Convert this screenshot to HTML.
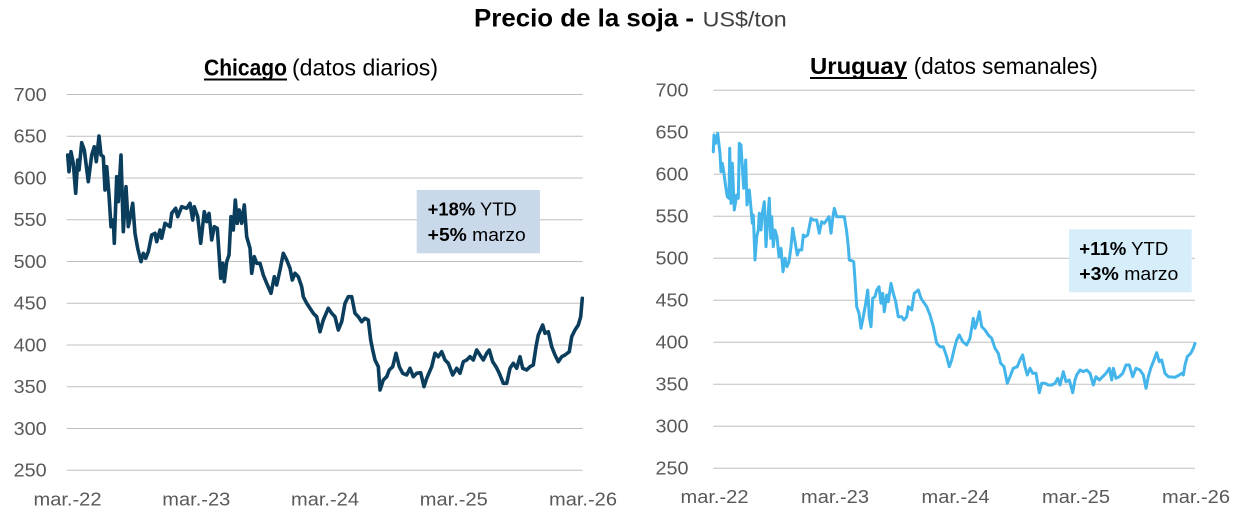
<!DOCTYPE html>
<html>
<head>
<meta charset="utf-8">
<style>
  html, body { margin: 0; padding: 0; background: #ffffff; }
  svg { display: block; }
  text { font-family: "Liberation Sans", Arial, sans-serif; }
</style>
</head>
<body>
<svg width="1243" height="517" viewBox="0 0 1243 517" xmlns="http://www.w3.org/2000/svg">
  <rect x="0" y="0" width="1243" height="517" fill="#ffffff"/>

  <!-- Title -->
  <text x="474" y="26.7" font-size="25" font-weight="bold" fill="#000" textLength="220" lengthAdjust="spacingAndGlyphs">Precio de la soja -</text>
  <text x="702.7" y="26.7" font-size="21" fill="#404040" textLength="84" lengthAdjust="spacingAndGlyphs">US$/ton</text>

  <!-- ===== LEFT CHART (Chicago) ===== -->
  <text x="204" y="75.5" font-size="23" font-weight="bold" fill="#000" textLength="83" lengthAdjust="spacingAndGlyphs">Chicago</text>
  <rect x="204" y="78.5" width="83" height="2" fill="#000"/>
  <text x="292" y="75.5" font-size="23" fill="#000" textLength="146" lengthAdjust="spacingAndGlyphs">(datos diarios)</text>

  <g stroke="#c0c0c0" stroke-width="1">
    <line x1="66.7" y1="94.5" x2="582.7" y2="94.5"/>
    <line x1="66.7" y1="136.25" x2="582.7" y2="136.25"/>
    <line x1="66.7" y1="178" x2="582.7" y2="178"/>
    <line x1="66.7" y1="219.75" x2="582.7" y2="219.75"/>
    <line x1="66.7" y1="261.5" x2="582.7" y2="261.5"/>
    <line x1="66.7" y1="303.25" x2="582.7" y2="303.25"/>
    <line x1="66.7" y1="345" x2="582.7" y2="345"/>
    <line x1="66.7" y1="386.75" x2="582.7" y2="386.75"/>
    <line x1="66.7" y1="428.5" x2="582.7" y2="428.5"/>
    <line x1="66.7" y1="470.25" x2="582.7" y2="470.25"/>
  </g>

  <g font-size="18" fill="#595959" text-anchor="end">
    <text x="46.7" y="100.8" textLength="33" lengthAdjust="spacingAndGlyphs">700</text>
    <text x="46.7" y="142.5" textLength="33" lengthAdjust="spacingAndGlyphs">650</text>
    <text x="46.7" y="184.3" textLength="33" lengthAdjust="spacingAndGlyphs">600</text>
    <text x="46.7" y="226" textLength="33" lengthAdjust="spacingAndGlyphs">550</text>
    <text x="46.7" y="267.8" textLength="33" lengthAdjust="spacingAndGlyphs">500</text>
    <text x="46.7" y="309.5" textLength="33" lengthAdjust="spacingAndGlyphs">450</text>
    <text x="46.7" y="351.3" textLength="33" lengthAdjust="spacingAndGlyphs">400</text>
    <text x="46.7" y="393" textLength="33" lengthAdjust="spacingAndGlyphs">350</text>
    <text x="46.7" y="434.8" textLength="33" lengthAdjust="spacingAndGlyphs">300</text>
    <text x="46.7" y="476.5" textLength="33" lengthAdjust="spacingAndGlyphs">250</text>
  </g>

  <g font-size="18" fill="#595959" text-anchor="middle">
    <text x="67.5" y="505.5" textLength="68" lengthAdjust="spacingAndGlyphs">mar.-22</text>
    <text x="196.3" y="505.5" textLength="68" lengthAdjust="spacingAndGlyphs">mar.-23</text>
    <text x="325" y="505.5" textLength="68" lengthAdjust="spacingAndGlyphs">mar.-24</text>
    <text x="453.8" y="505.5" textLength="68" lengthAdjust="spacingAndGlyphs">mar.-25</text>
    <text x="583" y="505.5" textLength="68" lengthAdjust="spacingAndGlyphs">mar.-26</text>
  </g>

  <polyline fill="none" stroke="#0b3d5c" stroke-width="3.6" stroke-linejoin="round" stroke-linecap="round"
    points="67.7,155 69,171.7 71,151.7 73.3,163.3 75.7,193.3 77.7,160 79,170 81.7,142.7 84.3,150 88.3,181.7 91.7,155 94.3,146.7 96.3,161.7 99,136 101,155 103.3,156.7 105,190 106.7,166.7 109,195 111,226.7 113.3,220 114.3,243.3 116.7,176.7 118.3,201.7 121,155 123.3,231.7 126,186.7 128.3,226.7 130.3,216.7 132.7,203.3 135,233.3 137.7,248.3 141,261.7 143.3,253.3 145.7,258.3 148.3,251.7 151.7,235 155,233.3 156.7,241.7 160,230 161.7,238.3 165,223.3 170,226.7 171.7,213.3 175.7,208.3 177.7,216.7 181.7,206.7 186.7,208.3 190,203.3 192.7,220 194.3,206.7 197.7,216.7 200.7,243.3 204.3,211.7 206.7,221.7 209,213.3 211.7,240 214.3,226.7 217.3,228.3 220.7,278.3 222.7,263.3 224.3,281.7 226.7,261.7 229,255 231,216.7 233.3,230 235.3,200 237.3,223.3 239.3,210 241.7,223.3 244.3,205 246.7,236.7 250,248.3 251.7,273.3 254.3,256.7 256.7,263.3 260,263.3 263.3,275 266.7,283.3 271,293.3 274.3,276.7 276.7,285 280,270 283.3,253.3 286.7,260 290,268.3 292.3,280 295,273.3 298.3,276.7 301.7,286.7 303.3,296.7 306.7,303.3 310,308.3 313.3,313.3 316.7,316.7 320,331.7 323.3,320 328.3,308.3 331.7,313.3 335,316.7 338.3,330 341.7,321.7 345,303.3 348.3,296.7 351.7,296.7 355,313.3 358.3,316.7 361.7,321.7 365,318.3 368.3,320 370.7,340 372.7,350 375,360 378.3,366.7 380,390 383.3,380 386.7,376.7 389.3,370 392.7,366.7 396,353.3 399.3,366.7 402.7,373.3 406.7,375 410,368.3 413.3,376.7 416.7,373.3 420.7,372.7 424,386.7 426.7,378.3 431.7,366.7 435,353.3 438.3,356.7 441.7,351.7 445,360 448.3,363.3 452.7,375 456.7,368.3 460,373.3 463.3,361.7 466.7,360 470,356.7 473.3,360 476.7,350 480,355 483.3,360 486.7,353.3 489.3,350 492.7,361.7 496,366.7 499.3,373.3 503.3,383.3 506.7,383.3 510,368.3 513.3,363.3 516.7,368.3 520,356.7 522.7,368.3 526.7,370 530,366.7 533.3,365 536,346.7 538.3,335 542.7,325 545,333.3 548.3,331.7 551.7,346.7 555,355 558.3,361.7 561.7,356.7 565,355 569.3,351.7 571.7,336.7 575,330 578.3,325 580.7,316.7 582.3,298.3"/>

  <!-- Left annotation box -->
  <rect x="416.7" y="190" width="123.3" height="63.3" fill="#c9d9ea"/>
  <text x="427.7" y="215.7" font-size="18" fill="#000" textLength="89" lengthAdjust="spacingAndGlyphs"><tspan font-weight="bold">+18%</tspan> YTD</text>
  <text x="427.7" y="241" font-size="18" fill="#000" textLength="98" lengthAdjust="spacingAndGlyphs"><tspan font-weight="bold">+5%</tspan> marzo</text>

  <!-- ===== RIGHT CHART (Uruguay) ===== -->
  <text x="810" y="74" font-size="23" font-weight="bold" fill="#000" textLength="97" lengthAdjust="spacingAndGlyphs">Uruguay</text>
  <rect x="810" y="77" width="97" height="2" fill="#000"/>
  <text x="913.8" y="74" font-size="23" fill="#000" textLength="184" lengthAdjust="spacingAndGlyphs">(datos semanales)</text>

  <g stroke="#c0c0c0" stroke-width="1">
    <line x1="713.3" y1="90.3" x2="1195" y2="90.3"/>
    <line x1="713.3" y1="132.3" x2="1195" y2="132.3"/>
    <line x1="713.3" y1="174.3" x2="1195" y2="174.3"/>
    <line x1="713.3" y1="216.3" x2="1195" y2="216.3"/>
    <line x1="713.3" y1="258.3" x2="1195" y2="258.3"/>
    <line x1="713.3" y1="300.3" x2="1195" y2="300.3"/>
    <line x1="713.3" y1="342.3" x2="1195" y2="342.3"/>
    <line x1="713.3" y1="384.3" x2="1195" y2="384.3"/>
    <line x1="713.3" y1="426.3" x2="1195" y2="426.3"/>
    <line x1="713.3" y1="468.3" x2="1195" y2="468.3"/>
  </g>

  <g font-size="18" fill="#595959" text-anchor="end">
    <text x="688.5" y="96.6" textLength="33" lengthAdjust="spacingAndGlyphs">700</text>
    <text x="688.5" y="138.6" textLength="33" lengthAdjust="spacingAndGlyphs">650</text>
    <text x="688.5" y="180.6" textLength="33" lengthAdjust="spacingAndGlyphs">600</text>
    <text x="688.5" y="222.6" textLength="33" lengthAdjust="spacingAndGlyphs">550</text>
    <text x="688.5" y="264.6" textLength="33" lengthAdjust="spacingAndGlyphs">500</text>
    <text x="688.5" y="306.6" textLength="33" lengthAdjust="spacingAndGlyphs">450</text>
    <text x="688.5" y="348.6" textLength="33" lengthAdjust="spacingAndGlyphs">400</text>
    <text x="688.5" y="390.6" textLength="33" lengthAdjust="spacingAndGlyphs">350</text>
    <text x="688.5" y="432.6" textLength="33" lengthAdjust="spacingAndGlyphs">300</text>
    <text x="688.5" y="474.6" textLength="33" lengthAdjust="spacingAndGlyphs">250</text>
  </g>

  <g font-size="18" fill="#595959" text-anchor="middle">
    <text x="714.5" y="502.8" textLength="68" lengthAdjust="spacingAndGlyphs">mar.-22</text>
    <text x="835" y="502.8" textLength="68" lengthAdjust="spacingAndGlyphs">mar.-23</text>
    <text x="955.5" y="502.8" textLength="68" lengthAdjust="spacingAndGlyphs">mar.-24</text>
    <text x="1076" y="502.8" textLength="68" lengthAdjust="spacingAndGlyphs">mar.-25</text>
    <text x="1196" y="502.8" textLength="68" lengthAdjust="spacingAndGlyphs">mar.-26</text>
  </g>

  <polyline fill="none" stroke="#43b5ea" stroke-width="3" stroke-linejoin="round" stroke-linecap="round"
    points="713.3,151.7 714,135 715.7,143.3 717.7,133.3 720,153.3 721,171.7 722.3,163.3 723.7,171.7 725.7,186.7 727.3,196.7 729,198.3 729.7,148.3 731,203.3 732.3,163.3 734.3,210 736.7,195 738.3,198.3 739.3,143.3 741,145 742.7,173.3 743.7,188.3 745.7,160 747,205 749.3,190 750.7,205 752.3,223.3 753.3,215 755,260 756.7,236.7 758.3,230 759.3,213.3 761,230 762.3,213.3 764.3,201.7 766,246.7 767.7,220 769.3,198.3 770.7,238.3 771.7,216.7 773.3,246.7 775,230 777,236.7 779,256.7 781,248.3 783,271.7 785,258.3 787,266.7 789,261.7 791,246.7 792.7,228.3 795,241.7 797.3,255 799,250 801.7,250 803.3,235 805,236.7 807.7,235 811,218.3 813.3,220 816.7,220 819.3,233.3 821.7,221.7 824.3,223.3 826.7,220 829,216.7 831,233.3 832.7,218.3 834.3,208.3 836.7,216.7 840,216.7 844.3,216.7 846.7,231.7 848.3,246.7 849.3,260 851.7,260.7 853.7,261.7 855,280 856.7,306.7 859,313.3 861,328.3 863.3,316.7 865.7,303.3 867.7,290 869.3,316.7 871,326.7 872.7,298.3 875,296.7 876.7,290 879,286.7 881,303.3 882.7,293.3 884.3,311.7 886.7,295 888.3,301.7 891,283.3 893.3,293.3 895.7,301.7 898.3,316.7 901.7,316.7 904,320 906.7,316.7 908.3,306.7 911.7,310 914.3,293.3 918.3,290 921,298.3 923.3,301.7 926.7,306.7 930,315 933.3,326.7 936.7,343.3 940,346.7 943.3,346.7 946.7,356.7 949.3,366.7 951.7,360 954,350 956.7,340 959.3,335 962.7,341.7 966.7,345 970,338.3 973.3,318.3 975,328.3 976.7,323.3 979.3,311.7 981.7,326.7 985,330 988.3,335 991.7,338.3 995,348.3 998.3,353.3 1000.7,363.3 1004,366.7 1007.3,383.3 1010,376.7 1013.3,368.3 1017.3,366.7 1020,360 1022.7,355 1025,366.7 1027.3,375 1030,368.3 1032.7,373.3 1036,373.3 1039.3,392.7 1041.7,383.3 1045,383.3 1048.3,385 1051.7,385 1055,383.3 1057.7,378.3 1060,385 1063.3,371.7 1066,381.7 1069.3,380 1072.7,392.7 1075,380 1076.7,375 1080,370 1083.3,371.7 1086.7,370 1090,373.3 1093.3,385 1096,376.7 1099.3,380 1102.7,376.7 1106,373.3 1109.3,368.3 1111.7,380 1113.3,368.3 1116,378.3 1119.3,376.7 1122.7,373.3 1126,365 1129.3,365 1132.7,376.7 1136,368.3 1140,370 1143.3,375 1146,388.3 1148.3,376.7 1150.7,368.3 1153.3,361.7 1156.7,352.7 1159.3,361.7 1161.7,360 1165,373.3 1168.3,376.7 1175,377.3 1179.3,375 1181.7,373.3 1183.3,375 1185,365 1187.3,356.7 1190.7,353.3 1193.3,348.3 1195,343.3"/>

  <!-- Right annotation box -->
  <rect x="1069" y="229.3" width="122.7" height="63" fill="#d6eefa"/>
  <text x="1079.3" y="255" font-size="18" fill="#000" textLength="89" lengthAdjust="spacingAndGlyphs"><tspan font-weight="bold">+11%</tspan> YTD</text>
  <text x="1079.3" y="280" font-size="18" fill="#000" textLength="99" lengthAdjust="spacingAndGlyphs"><tspan font-weight="bold">+3%</tspan> marzo</text>
</svg>
</body>
</html>
